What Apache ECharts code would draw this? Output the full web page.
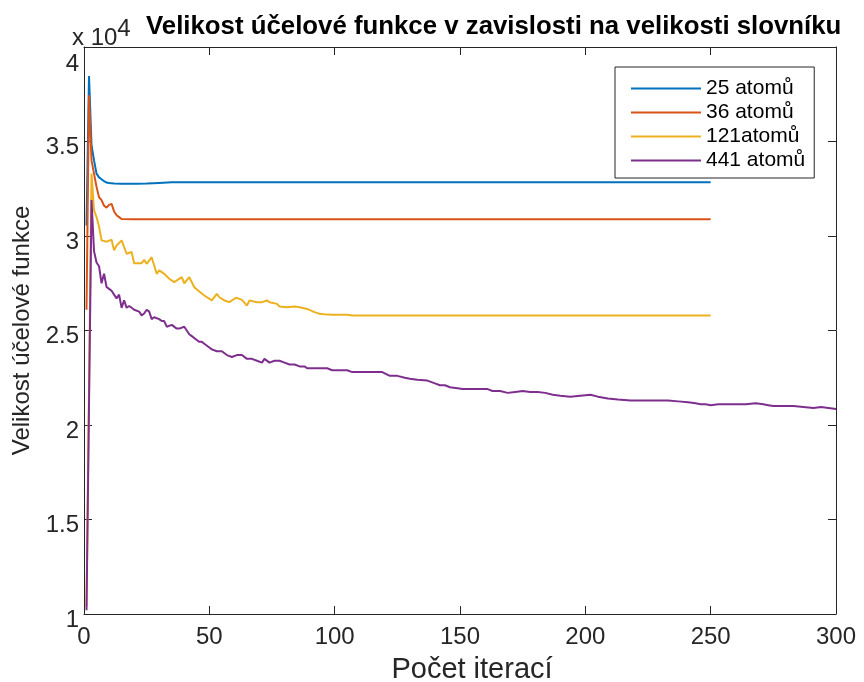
<!DOCTYPE html>
<html>
<head>
<meta charset="utf-8">
<title>Velikost účelové funkce</title>
<script src="https://cdn.jsdelivr.net/npm/echarts@6/dist/echarts.min.js"></script>
<style>
  html, body { margin: 0; padding: 0; background: #fff; }
  #main { width: 864px; height: 682px; }
</style>
</head>
<body>
<div id="main"></div>
<script>
// hodnoty (iterace + hodnota)
const legendNames = ["25 atomů", "36 atomů", "121atomů", "441 atomů"];
const colors = ["#0072BD", "#D95319", "#EDB120", "#7E2F8E"];

const iter25 = [1, 2, 3, 4, 5, 6, 7, 8, 9, 10, 12, 15, 18, 21, 25, 30, 35, 40, 250];
const val25 = [30560, 38460, 34800, 34000, 33300, 33100, 33000, 32900, 32830, 32800, 32780, 32770, 32760, 32760, 32780, 32810, 32840, 32850, 32850];

const iter36 = [1, 2, 3, 4, 5, 6, 7, 8, 9, 10, 11, 12, 13, 14, 15, 20, 250];
const val36 = [26100, 37450, 34000, 33300, 32600, 32050, 31900, 31600, 31500, 31650, 31700, 31300, 31100, 31000, 30900, 30880, 30880];

const iter121 = [1, 3, 4, 5, 6, 7, 9, 11, 12, 13, 15, 17, 19, 20, 23, 24, 25, 27, 29, 30, 32, 34, 36, 39, 40, 42, 44,
  46, 48, 51, 53, 54, 56, 58, 60, 61, 63, 65, 66, 69, 71, 73, 74, 77, 78, 81, 84, 86, 89, 92, 94, 97, 99, 105, 107, 120, 250];
const val121 = [10400, 33300, 31360, 31000, 30500, 29770, 29700, 29800, 29240, 29500, 29770, 29060, 29150, 28560, 28560, 28740, 28530, 28880, 28000, 28180, 28000, 27740, 27560, 27820, 27500, 27820, 27290,
  27060, 26850, 26590, 26940, 26760, 26590, 26500, 26680, 26730, 26620, 26320, 26590, 26500, 26500, 26590, 26500, 26410, 26270, 26230, 26270, 26230, 26140, 25970, 25880, 25840, 25830, 25830, 25790, 25800, 25800];

const iter441 = [1, 3, 4, 5, 6, 7, 8, 9, 10, 11, 12, 13, 14, 15, 16, 17, 18, 19, 20, 22, 23, 24, 25, 26, 27, 28, 30, 31, 32, 33, 35, 37, 38, 40,
  41, 42, 43, 45, 46, 47, 48, 50, 51, 53, 55, 57, 59, 61, 63, 65, 67, 69, 71, 72, 74, 76, 78, 80, 82, 84, 86, 88, 89, 92, 95, 97, 99,
  101, 103, 105, 107, 109, 112, 115, 117, 119, 122, 125, 128, 130, 133, 137, 140, 142, 144, 146, 149, 151, 154, 157, 161, 163, 166, 169,
  172, 175, 178, 181, 184, 187, 190, 194, 198, 202, 205, 209, 213, 218, 222, 226, 230, 233, 237, 241, 244, 246, 248, 250, 253, 256, 258,
  261, 264, 268, 271, 273, 275, 279, 283, 287, 291, 294, 297, 300];
const val441 = [10200, 31900, 29200, 28600, 28400, 27500, 28000, 27300, 27200, 27100, 26900, 26700, 26900, 26200, 26600, 26200, 26300, 26200, 26100, 26000, 25800, 25900, 26100, 26000, 25600, 25700, 25600, 25500, 25500, 25200, 25300, 25100, 25100, 25200,
  25000, 24800, 24700, 24500, 24400, 24400, 24300, 24100, 24000, 23900, 23900, 23700, 23600, 23700, 23700, 23500, 23500, 23400, 23300, 23500, 23300, 23400, 23400, 23300, 23200, 23200, 23100, 23100, 23000, 23000, 23000, 23000, 22900,
  22900, 22900, 22900, 22800, 22800, 22800, 22800, 22800, 22800, 22600, 22600, 22500, 22450, 22400, 22350, 22200, 22100, 22100, 22000, 21950, 21900, 21900, 21900, 21900, 21800, 21800, 21700,
  21750, 21800, 21750, 21750, 21700, 21600, 21550, 21500, 21550, 21600, 21500, 21400, 21350, 21300, 21300, 21300, 21300, 21300, 21250, 21200, 21150, 21100, 21100, 21050, 21100, 21100, 21100,
  21100, 21100, 21150, 21100, 21050, 21000, 21000, 21000, 20950, 20900, 20950, 20900, 20850];

const xTicks = { min: 0, max: 300, interval: 50 };
const yTicks = { min: 10000, max: 40000, interval: 5000 };

const iters = [iter25, iter36, iter121, iter441];
const vals = [val25, val36, val121, val441];

const chart = echarts.init(document.getElementById("main"), null, { renderer: "canvas" });

const axisColor = "#262626";
const font = "'Liberation Sans', Arial, sans-serif";

function xAxisDef(pos, showLabel) {
  return {
    type: "value",
    position: pos,
    min: xTicks.min,
    max: xTicks.max,
    interval: xTicks.interval,
    axisLine: { show: true, onZero: false, lineStyle: { color: axisColor, width: 1 } },
    axisTick: { show: true, inside: true, length: 8, lineStyle: { color: axisColor } },
    axisLabel: { show: showLabel, fontSize: 24, color: axisColor, fontFamily: font, margin: 11 },
    splitLine: { show: false },
    name: showLabel ? "Počet iterací" : "",
    nameLocation: "middle",
    nameGap: 41,
    nameTextStyle: { fontSize: 29, color: axisColor, fontFamily: font, padding: [0, 0, 0, 24] }
  };
}

function yAxisDef(pos, showLabel) {
  return {
    type: "value",
    position: pos,
    min: yTicks.min,
    max: yTicks.max,
    interval: yTicks.interval,
    axisLine: { show: true, onZero: false, lineStyle: { color: axisColor, width: 1 } },
    axisTick: { show: true, inside: true, length: 8, lineStyle: { color: axisColor } },
    axisLabel: {
      show: showLabel, fontSize: 24, color: axisColor, fontFamily: font, margin: 5,
      formatter: (v) => (v === yTicks.max ? "{top|" + v / 10000 + "}" : "{n|" + v / 10000 + "}"),
      rich: {
        n: { fontSize: 24, color: axisColor, fontFamily: font, padding: [12, 0, 0, 0] },
        top: { fontSize: 24, color: axisColor, fontFamily: font, padding: [34, 0, 0, 0] }
      }
    },
    splitLine: { show: false },
    name: showLabel ? "Velikost účelové funkce" : "",
    nameLocation: "middle",
    nameRotate: 90,
    nameGap: 49,
    nameTextStyle: { fontSize: 24, color: axisColor, fontFamily: font }
  };
}

const option = {
  animation: false,
  backgroundColor: "#fff",
  title: {
    text: "Velikost účelové funkce v zavislosti na velikosti slovníku",
    left: 146,
    top: 14,
    padding: 0,
    textStyle: { fontSize: 25.8, fontWeight: "bold", color: "#000", fontFamily: font }
  },
  grid: { left: 84, top: 47, width: 752, height: 567, containLabel: false, outerBoundsMode: "none" },
  legend: {
    data: legendNames,
    orient: "vertical",
    left: 615,
    top: 67,
    icon: "rect",
    itemWidth: 70,
    itemHeight: 2,
    itemGap: 3,
    padding: [11, 9, 7, 16],
    borderColor: axisColor,
    borderWidth: 1,
    backgroundColor: "#fff",
    textStyle: { fontSize: 21, color: "#000", fontFamily: font }
  },
  graphic: [{
    type: "text",
    left: 72,
    top: 17,
    style: {
      text: "x 10{s|4}",
      font: "24px " + font,
      fill: axisColor,
      rich: { s: { fontSize: 24, verticalAlign: "top", padding: [0, 0, 18, 0] } }
    }
  }],
  xAxis: [xAxisDef("bottom", true), xAxisDef("top", false)],
  yAxis: [yAxisDef("left", true), yAxisDef("right", false)],
  series: legendNames.map((name, i) => ({
    name: name,
    type: "line",
    xAxisIndex: 0,
    yAxisIndex: 0,
    showSymbol: false,
    symbol: "none",
    color: colors[i],
    lineStyle: { width: 2, color: colors[i] },
    data: iters[i].map((x, j) => [x, vals[i][j]])
  }))
};

chart.setOption(option);
</script>
</body>
</html>
